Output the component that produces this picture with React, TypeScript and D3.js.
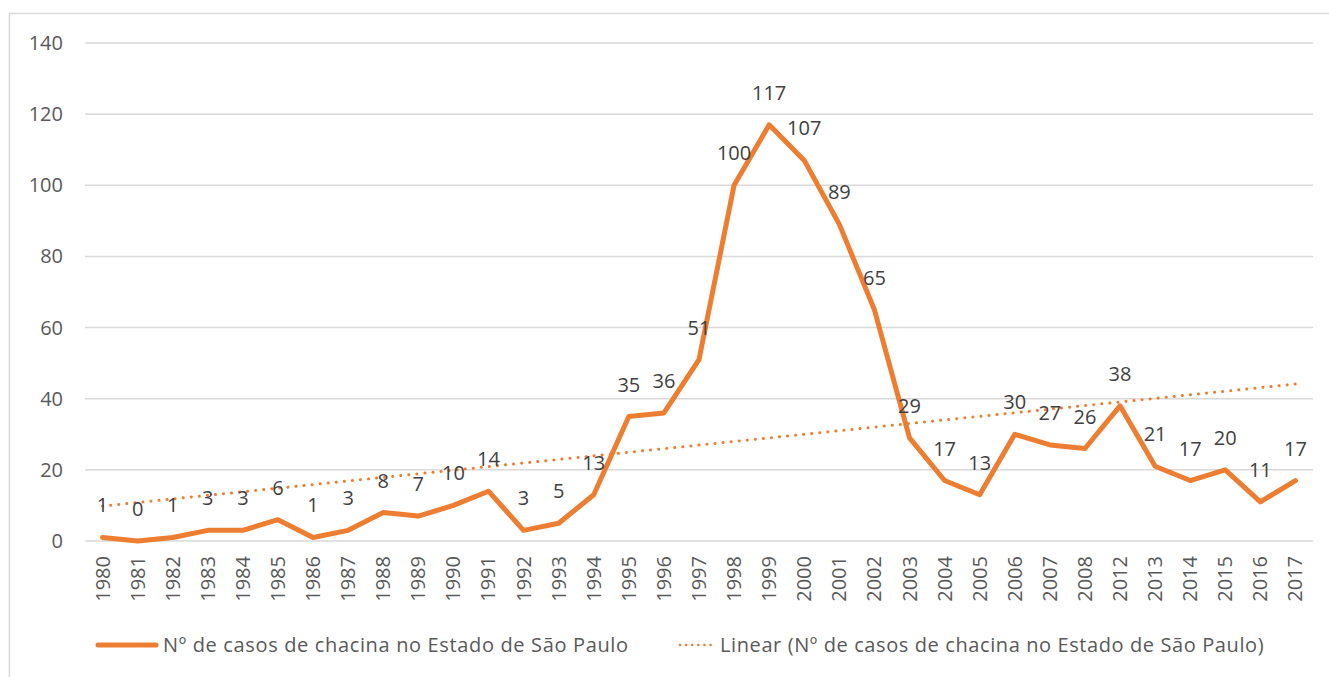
import React, { useEffect, useRef } from 'react';
import * as d3 from 'd3';

const years = [
  '1980', '1981', '1982', '1983', '1984', '1985', '1986', '1987', '1988', '1989',
  '1990', '1991', '1992', '1993', '1994', '1995', '1996', '1997', '1998', '1999',
  '2000', '2001', '2002', '2003', '2004', '2005', '2006', '2007', '2008', '2012',
  '2013', '2014', '2015', '2016', '2017',
];
const cases = [
  1, 0, 1, 3, 3, 6, 1, 3, 8, 7,
  10, 14, 3, 5, 13, 35, 36, 51, 100, 117,
  107, 89, 65, 29, 17, 13, 30, 27, 26, 38,
  21, 17, 20, 11, 17,
];
const yTicks = [0, 20, 40, 60, 80, 100, 120, 140];
const seriesName = 'Nº de casos de chacina no Estado de São Paulo';
const trendName = 'Linear (Nº de casos de chacina no Estado de São Paulo)';

const W = 1329;
const H = 677;
const FONT = "'Open Sans', sans-serif";
const ORANGE = '#ED7D31';
const FS = 20;

export default function App() {
  const ref = useRef<SVGSVGElement>(null);

  useEffect(() => {
    if (!ref.current) return;
    const svg = d3.select(ref.current);
    svg.selectAll('*').remove();

    // outer chart border
    svg
      .append('rect')
      .attr('x', 9.5)
      .attr('y', 13.5)
      .attr('width', W + 20)
      .attr('height', H + 20)
      .attr('fill', '#fff')
      .attr('stroke', '#d9d9d9')
      .attr('stroke-width', 1.5);

    const left = 85;
    const right = 1313;
    const top = 43;
    const bottom = 541;

    const x = d3.scalePoint<string>().domain(years).range([left, right]).padding(0.5);
    const y = d3.scaleLinear().domain([0, 140]).range([bottom, top]);

    // gridlines
    svg
      .append('g')
      .selectAll('line')
      .data(yTicks)
      .join('line')
      .attr('x1', left)
      .attr('x2', right)
      .attr('y1', (d) => y(d))
      .attr('y2', (d) => y(d))
      .attr('stroke', '#d9d9d9')
      .attr('stroke-width', 1.5);

    // y tick labels
    svg
      .append('g')
      .selectAll('text')
      .data(yTicks)
      .join('text')
      .attr('x', 63)
      .attr('y', (d) => y(d))
      .attr('dy', '0.35em')
      .attr('text-anchor', 'end')
      .attr('font-family', FONT)
      .attr('font-size', FS)
      .attr('fill', '#595959')
      .text((d) => d);

    // x tick labels (rotated)
    svg
      .append('g')
      .selectAll('text')
      .data(years)
      .join('text')
      .attr('transform', (d) => `translate(${x(d)! + 7}, 556) rotate(-90)`)
      .attr('text-anchor', 'end')
      .attr('font-family', FONT)
      .attr('font-size', FS)
      .attr('fill', '#595959')
      .text((d) => d);

    // linear trend (least squares over category index)
    const n = cases.length;
    const mx = d3.mean(d3.range(n))!;
    const my = d3.mean(cases)!;
    const slope =
      d3.sum(cases, (v, i) => (i - mx) * (v - my)) / d3.sum(d3.range(n), (i) => (i - mx) ** 2);
    const icpt = my - slope * mx;
    const trend = years.map((yr, i) => ({ yr, v: icpt + slope * i }));

    const trendLine = d3
      .line<{ yr: string; v: number }>()
      .x((d) => x(d.yr)!)
      .y((d) => y(d.v));

    svg
      .append('path')
      .datum(trend)
      .attr('d', trendLine)
      .attr('fill', 'none')
      .attr('stroke', ORANGE)
      .attr('stroke-width', 3)
      .attr('stroke-linecap', 'round')
      .attr('stroke-dasharray', '0.1 8');

    // main series
    const line = d3
      .line<number>()
      .x((_, i) => x(years[i])!)
      .y((d) => y(d));

    svg
      .append('path')
      .datum(cases)
      .attr('d', line)
      .attr('fill', 'none')
      .attr('stroke', ORANGE)
      .attr('stroke-width', 5)
      .attr('stroke-linejoin', 'round')
      .attr('stroke-linecap', 'round');

    // data labels
    svg
      .append('g')
      .selectAll('text')
      .data(cases)
      .join('text')
      .attr('x', (_, i) => x(years[i])!)
      .attr('y', (d) => y(d) - 32)
      .attr('dy', '0.35em')
      .attr('text-anchor', 'middle')
      .attr('font-family', FONT)
      .attr('font-size', FS)
      .attr('fill', '#404040')
      .text((d) => d);

    // legend
    const lg = svg.append('g').attr('transform', 'translate(0, 645)');
    lg.append('line')
      .attr('x1', 98)
      .attr('x2', 156)
      .attr('stroke', ORANGE)
      .attr('stroke-width', 5)
      .attr('stroke-linecap', 'round');
    lg.append('text')
      .attr('x', 163)
      .attr('dy', '0.35em')
      .attr('font-family', FONT)
      .attr('font-size', FS)
      .attr('letter-spacing', 0.65)
      .attr('fill', '#595959')
      .text(seriesName);
    lg.append('line')
      .attr('x1', 680)
      .attr('x2', 712)
      .attr('stroke', ORANGE)
      .attr('stroke-width', 2.5)
      .attr('stroke-linecap', 'round')
      .attr('stroke-dasharray', '0.1 6');
    lg.append('text')
      .attr('x', 720)
      .attr('dy', '0.35em')
      .attr('font-family', FONT)
      .attr('font-size', FS)
      .attr('letter-spacing', 0.6)
      .attr('fill', '#595959')
      .text(trendName);
  }, []);

  return (
    <svg
      ref={ref}
      width={W}
      height={H}
      style={{ position: 'absolute', left: 0, top: 0, display: 'block' }}
    />
  );
}
